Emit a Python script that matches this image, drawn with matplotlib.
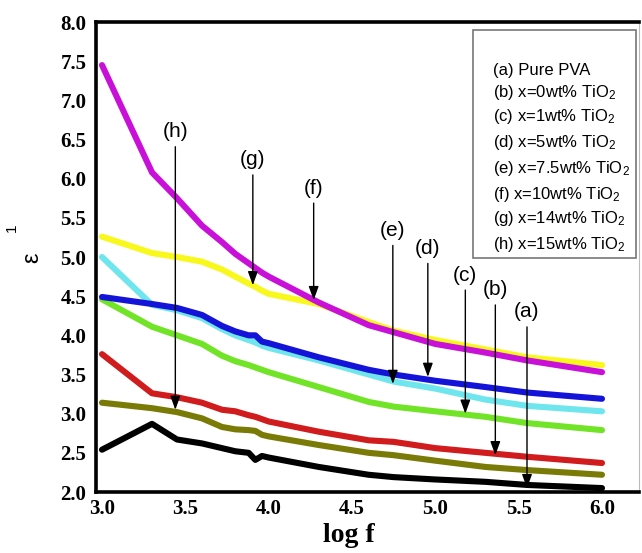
import matplotlib
matplotlib.use("Agg")
import matplotlib.pyplot as plt
from matplotlib.patches import Rectangle

plt.rcParams["mathtext.default"] = "regular"

# log f grid shared by all curves
log_f = [3.0, 3.3, 3.45, 3.6, 3.72, 3.8, 3.88, 3.92, 3.96, 4.0,
         4.3, 4.6, 4.75, 5.0, 5.3, 5.55, 6.0]

eps_a = [2.54, 2.87, 2.67, 2.62, 2.56, 2.52, 2.50, 2.41, 2.46, 2.44,
         2.32, 2.22, 2.19, 2.16, 2.13, 2.09, 2.05]
eps_b = [3.76, 3.26, 3.21, 3.14, 3.05, 3.03, 2.98, 2.96, 2.93, 2.90,
         2.77, 2.66, 2.64, 2.56, 2.50, 2.45, 2.37]
eps_c = [4.46, 4.11, 4.00, 3.89, 3.74, 3.67, 3.62, 3.59, 3.56, 3.53,
         3.34, 3.15, 3.09, 3.03, 2.96, 2.88, 2.79]
eps_d = [4.49, 4.40, 4.35, 4.26, 4.12, 4.05, 4.00, 4.00, 3.92, 3.90,
         3.72, 3.56, 3.50, 3.42, 3.34, 3.27, 3.19]
eps_e = [5.00, 4.39, 4.32, 4.22, 4.08, 4.00, 3.94, 3.91, 3.87, 3.84,
         3.68, 3.50, 3.41, 3.32, 3.18, 3.10, 3.03]
eps_f = [7.45, 6.08, 5.75, 5.40, 5.19, 5.04, 4.92, 4.86, 4.80, 4.75,
         4.42, 4.13, 4.04, 3.89, 3.78, 3.68, 3.53]
eps_g = [5.26, 5.05, 5.00, 4.94, 4.84, 4.75, 4.66, 4.62, 4.57, 4.53,
         4.40, 4.17, 4.06, 3.94, 3.82, 3.72, 3.62]
eps_h = [3.14, 3.07, 3.02, 2.94, 2.83, 2.80, 2.79, 2.78, 2.73, 2.71,
         2.60, 2.50, 2.47, 2.40, 2.32, 2.28, 2.22]

series = [eps_a, eps_b, eps_c, eps_d, eps_e, eps_f, eps_g, eps_h]
colors = ["#000000", "#d01c1c", "#72e428", "#1414d8",
          "#6fe6ee", "#c810d8", "#f8f81c", "#7a7a06"]
# draw order bottom to top so overlaps look like the original
order = [7, 1, 0, 2, 4, 3, 6, 5]

legend_lines = [
    "(a) Pure PVA",
    "(b) x=0wt% TiO$_2$",
    "(c) x=1wt% TiO$_2$",
    "(d) x=5wt% TiO$_2$",
    "(e) x=7.5wt% TiO$_2$",
    "(f) x=10wt% TiO$_2$",
    "(g) x=14wt% TiO$_2$",
    "(h) x=15wt% TiO$_2$",
]

# arrow labels: text, x, label y, arrow tip y
arrow_tags = ["(a)", "(b)", "(c)", "(d)", "(e)", "(f)", "(g)", "(h)"]
arrow_x = [5.55, 5.36, 5.18, 4.955, 4.745, 4.27, 3.905, 3.44]
arrow_label_y = [4.30, 4.58, 4.77, 5.11, 5.34, 5.88, 6.24, 6.60]
arrow_tip_y = [2.05, 2.47, 3.00, 3.47, 3.38, 4.45, 4.64, 3.05]

W, H = 642, 553
fig = plt.figure(figsize=(W / 100, H / 100), dpi=100)
ax = fig.add_axes([96 / W, 1 - 492 / H, 543 / W, 470 / H])

for i in order:
    ax.plot(log_f, series[i], color=colors[i], lw=4.4,
            solid_capstyle="round", solid_joinstyle="round", zorder=2)

ax.set_xlim(2.964, 6.222)
ax.set_ylim(2.0, 8.0)
ax.set_xticks([3.0, 3.5, 4.0, 4.5, 5.0, 5.5, 6.0])
ax.set_yticks([2.0, 2.5, 3.0, 3.5, 4.0, 4.5, 5.0, 5.5, 6.0, 6.5, 7.0, 7.5, 8.0])
ax.xaxis.set_major_formatter(matplotlib.ticker.FormatStrFormatter("%.1f"))
ax.yaxis.set_major_formatter(matplotlib.ticker.FormatStrFormatter("%.1f"))
ax.tick_params(length=0, labelsize=15)
ax.tick_params(axis="y", pad=7)
ax.tick_params(axis="x", pad=5)
for lab in ax.get_xticklabels() + ax.get_yticklabels():
    lab.set_family("Liberation Serif")
    lab.set_fontweight("bold")

for side in ["left", "bottom", "top"]:
    ax.spines[side].set_linewidth(2.6)
ax.spines["right"].set_linewidth(0.8)
ax.spines["right"].set_color("#bbbbbb")

ax.set_xlabel("log f", family="Liberation Serif", fontweight="bold",
              fontsize=20)
ax.xaxis.set_label_coords(0.466, -0.066)
ax.xaxis.label.set_va("top")
# y label: epsilon with a raised "1"
ax.set_ylabel("ε", family="Liberation Sans", fontsize=17)
ax.yaxis.set_label_coords(-0.0976, 0.498)
fig.text(12 / W, 1 - 228 / H, "1", family="Liberation Sans", fontsize=11,
         rotation=90, ha="center", va="center")

# legend box (text only, no handles)
ax.add_patch(Rectangle((0.694, 0.498), 0.3005, 0.485, transform=ax.transAxes,
                       fill=False, edgecolor="#777777", lw=1.2, zorder=3))
legend_y_px = [70, 92, 117, 142, 168, 194, 219, 245]
for txt, ypx in zip(legend_lines, legend_y_px):
    fig.text(493 / W, 1 - ypx / H, txt, family="Liberation Sans",
             fontsize=12, va="center", ha="left")

for tag, x, ly, ty in zip(arrow_tags, arrow_x, arrow_label_y, arrow_tip_y):
    ax.annotate(tag, xy=(x, ty), xytext=(x, ly), ha="center", va="center",
                family="Liberation Sans", fontsize=15, zorder=4,
                arrowprops=dict(arrowstyle="-|>,head_length=0.55,head_width=0.2",
                                color="black", lw=1.0, shrinkA=2, shrinkB=0))

fig.savefig("out.png", dpi=100)
